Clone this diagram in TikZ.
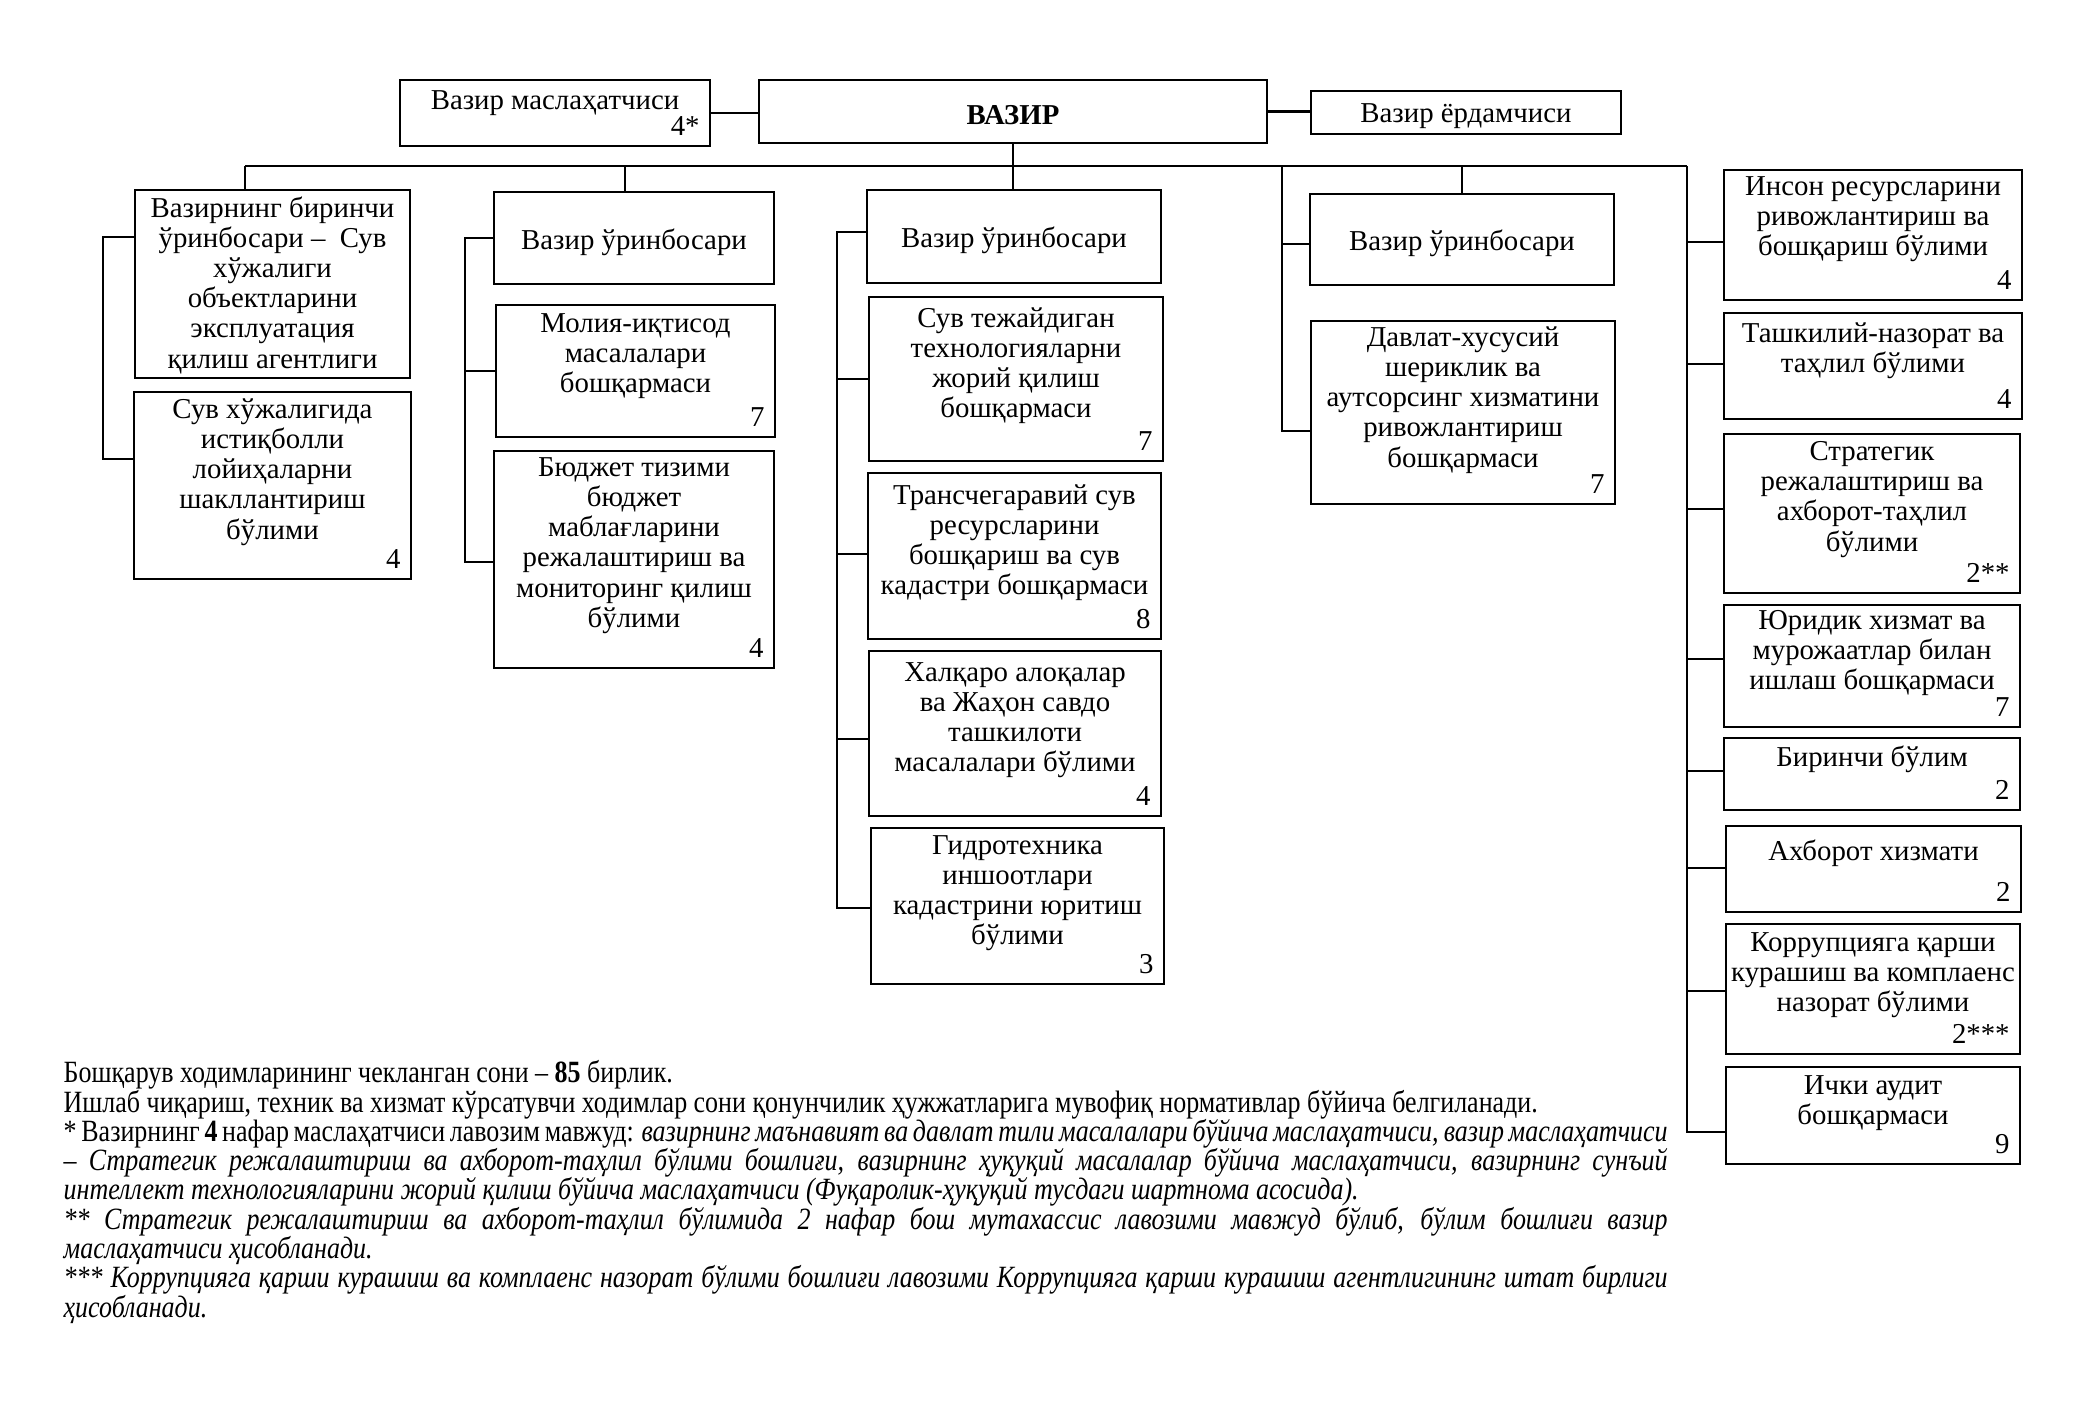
\documentclass[tikz,border=0pt]{standalone}
\usepackage{fontspec}
\setmainfont{Liberation Serif}
\newfontfamily\notefont[FakeStretch=0.84]{Liberation Serif}
\usetikzlibrary{fit,calc}
\newcommand\notesetup{\hyphenpenalty=10000 \exhyphenpenalty=10000 \tolerance=9999 \emergencystretch=2em\relax}

\newcommand\orgbox[8]{%
  \coordinate (#1nw) at (#2,#3);
  \coordinate (#1se) at (#4,#5);
  \node[boxst, fit=(#1nw)(#1se)] (#1) {};
  \node[txt, anchor=north] (#1txt) at ([yshift=-#6*0.1mm]#1.north) {#7};
  \node[num] (#1num) at ([xshift=-1.1mm,yshift=1.1mm]#1.south east) {#8};
}
\newcommand\ctrbox[6]{%
  \coordinate (#1nw) at (#2,#3);
  \coordinate (#1se) at (#4,#5);
  \node[boxst, fit=(#1nw)(#1se)] (#1) {};
  \node[txt] (#1txt) at ([yshift=-0.4mm]#1.center) {#6};
}

\begin{document}
\begin{tikzpicture}[x=0.1mm,y=-0.1mm,
  boxst/.style={draw, line width=0.75pt, inner sep=0pt},
  txt/.style={align=center, inner sep=0pt, font=\fontsize{8.2}{8.6}\selectfont},
  num/.style={anchor=south east, inner sep=0pt, font=\fontsize{8.2}{8.6}\selectfont},
  conn/.style={line width=0.65pt},
  notes/.style={anchor=north west, inner sep=0pt, text width=160.4mm, align=justify,
    font=\notefont\fontsize{8.8}{8.33}\selectfont\notesetup}]
\useasboundingbox (0,0) rectangle (2100,1417);

% top row
\orgbox{adv}{400}{80}{710}{146}{11}{Вазир маслаҳатчиси}{4*}
\ctrbox{vazir}{759}{80}{1267}{143}{\bfseries ВАЗИР}
\ctrbox{yordam}{1311}{91}{1621}{134}{Вазир ёрдамчиси}

% column 1
\orgbox{A}{135}{190}{410}{378}{7}{Вазирнинг биринчи\\ўринбосари –~ Сув\\хўжалиги\\объектларини\\эксплуатация\\қилиш агентлиги}{}
\orgbox{B}{134}{392}{411}{579}{7}{Сув хўжалигида\\истиқболли\\лойиҳаларни\\шакллантириш\\бўлими}{4}

% column 2
\ctrbox{C}{494}{192}{774}{284}{Вазир ўринбосари}
\orgbox{D}{496}{305}{775}{437}{9}{Молия-иқтисод\\масалалари\\бошқармаси}{7}
\orgbox{E}{494}{451}{774}{668}{7}{Бюджет тизими\\бюджет\\маблағларини\\режалаштириш ва\\мониторинг қилиш\\бўлими}{4}

% column 3
\ctrbox{F}{867}{190}{1161}{283}{Вазир ўринбосари}
\orgbox{G}{869}{297}{1163}{461}{11}{Сув тежайдиган\\технологияларни\\жорий қилиш\\бошқармаси}{7}
\orgbox{H}{868}{473}{1161}{639}{12}{Трансчегаравий сув\\ресурсларини\\бошқариш ва сув\\кадастри бошқармаси}{8}
\orgbox{I}{869}{651}{1161}{816}{12}{Халқаро алоқалар\\ва Жаҳон савдо\\ташкилоти\\масалалари бўлими}{4}
\orgbox{J}{871}{828}{1164}{984}{8}{Гидротехника\\иншоотлари\\кадастрини юритиш\\бўлими}{3}

% column 4
\ctrbox{K}{1310}{194}{1614}{285}{Вазир ўринбосари}
\orgbox{L}{1311}{321}{1615}{504}{6}{Давлат-хусусий\\шериклик ва\\аутсорсинг хизматини\\ривожлантириш\\бошқармаси}{7}

% column 5
\orgbox{M}{1724}{170}{2022}{300}{7}{Инсон ресурсларини\\ривожлантириш ва\\бошқариш бўлими}{4}
\orgbox{N}{1724}{313}{2022}{419}{10}{Ташкилий-назорат ва\\таҳлил бўлими}{4}
\orgbox{O}{1724}{434}{2020}{593}{8}{Стратегик\\режалаштириш ва\\ахборот-таҳлил\\бўлими}{2**}
\orgbox{P}{1724}{605}{2020}{727}{6}{Юридик хизмат ва\\мурожаатлар билан\\ишлаш бошқармаси}{7}
\orgbox{Q}{1724}{738}{2020}{810}{8}{Биринчи бўлим}{2}
\orgbox{R}{1726}{826}{2021}{912}{14}{Ахборот хизмати}{2}
\orgbox{S}{1726}{924}{2020}{1054}{9}{Коррупцияга қарши\\курашиш ва комплаенс\\назорат бўлими}{2***}
\orgbox{T}{1726}{1067}{2020}{1164}{9}{Ички аудит\\бошқармаси}{9}

% connectors: top row
\draw[conn] (adv.east) -- (adv.east -| vazir.west);
\draw[conn] (vazir.east) -- (vazir.east -| yordam.west);

% bus
\coordinate (busL) at (245,166);
\coordinate (busR) at (1687,166);
\coordinate (d2) at (625,166);
\coordinate (d4) at (1282,166);
\coordinate (d4k) at (1462,166);
\draw[conn] (busL) -- (busR);
\draw[conn] (vazir.south) -- (vazir.south |- F.north);
\draw[conn] (busL) -- (busL |- A.north);
\draw[conn] (d2) -- (d2 |- C.north);
\draw[conn] (d4k) -- (d4k |- K.north);

% column 1 bracket
\coordinate (b1a) at (103,237);
\coordinate (b1b) at (103,459);
\draw[conn] (A.west |- b1a) -- (b1a) -- (b1b) -- (B.west |- b1b);

% column 2 bracket
\coordinate (b2a) at (465,238);
\coordinate (b2b) at (465,371);
\coordinate (b2c) at (465,562);
\draw[conn] (C.west |- b2a) -- (b2a) -- (b2c) -- (E.west |- b2c);
\draw[conn] (b2b) -- (D.west |- b2b);

% column 3 bracket
\coordinate (b3a) at (837,232);
\coordinate (b3b) at (837,379);
\coordinate (b3c) at (837,554);
\coordinate (b3d) at (837,739);
\coordinate (b3e) at (837,908);
\draw[conn] (F.west |- b3a) -- (b3a) -- (b3e) -- (J.west |- b3e);
\draw[conn] (b3b) -- (G.west |- b3b);
\draw[conn] (b3c) -- (H.west |- b3c);
\draw[conn] (b3d) -- (I.west |- b3d);

% column 4
\coordinate (b4a) at (1282,244);
\coordinate (b4b) at (1282,431);
\draw[conn] (d4) -- (b4b) -- (L.west |- b4b);
\draw[conn] (b4a) -- (K.west |- b4a);

% column 5
\coordinate (b5a) at (1687,242);
\coordinate (b5b) at (1687,364);
\coordinate (b5c) at (1687,509);
\coordinate (b5d) at (1687,659);
\coordinate (b5e) at (1687,771);
\coordinate (b5f) at (1687,868);
\coordinate (b5g) at (1687,991);
\coordinate (b5h) at (1687,1132);
\draw[conn] (busR) -- (b5h) -- (T.west |- b5h);
\draw[conn] (b5a) -- (M.west |- b5a);
\draw[conn] (b5b) -- (N.west |- b5b);
\draw[conn] (b5c) -- (O.west |- b5c);
\draw[conn] (b5d) -- (P.west |- b5d);
\draw[conn] (b5e) -- (Q.west |- b5e);
\draw[conn] (b5f) -- (R.west |- b5f);
\draw[conn] (b5g) -- (S.west |- b5g);

% notes
\node[notes] (notes) at (63,1060) {%
Бошқарув ходимларининг чекланган сони – \textbf{85} бирлик.\par
Ишлаб чиқариш, техник ва хизмат кўрсатувчи ходимлар сони қонунчилик ҳужжатларига мувофиқ нормативлар бўйича белгиланади.\par
* Вазирнинг \textbf{4} нафар маслаҳатчиси лавозим мавжуд: \textit{вазирнинг маънавият ва давлат тили масалалари бўйича маслаҳатчиси, вазир маслаҳатчиси\linebreak – Стратегик режалаштириш ва ахборот-таҳлил бўлими бошлиғи, вазирнинг ҳуқуқий масалалар бўйича маслаҳатчиси, вазирнинг сунъий\linebreak интеллект технологияларини жорий қилиш бўйича маслаҳатчиси (Фуқаролик-ҳуқуқий тусдаги шартнома асосида).}\par
\textit{** Стратегик режалаштириш ва ахборот-таҳлил бўлимида 2~нафар бош мутахассис лавозими мавжуд бўлиб, бўлим бошлиғи вазир\linebreak маслаҳатчиси ҳисобланади.}\par
\textit{*** Коррупцияга қарши курашиш ва комплаенс назорат бўлими бошлиғи лавозими Коррупцияга қарши курашиш агентлигининг штат бирлиги\linebreak ҳисобланади.}%
};
\end{tikzpicture}
\end{document}
